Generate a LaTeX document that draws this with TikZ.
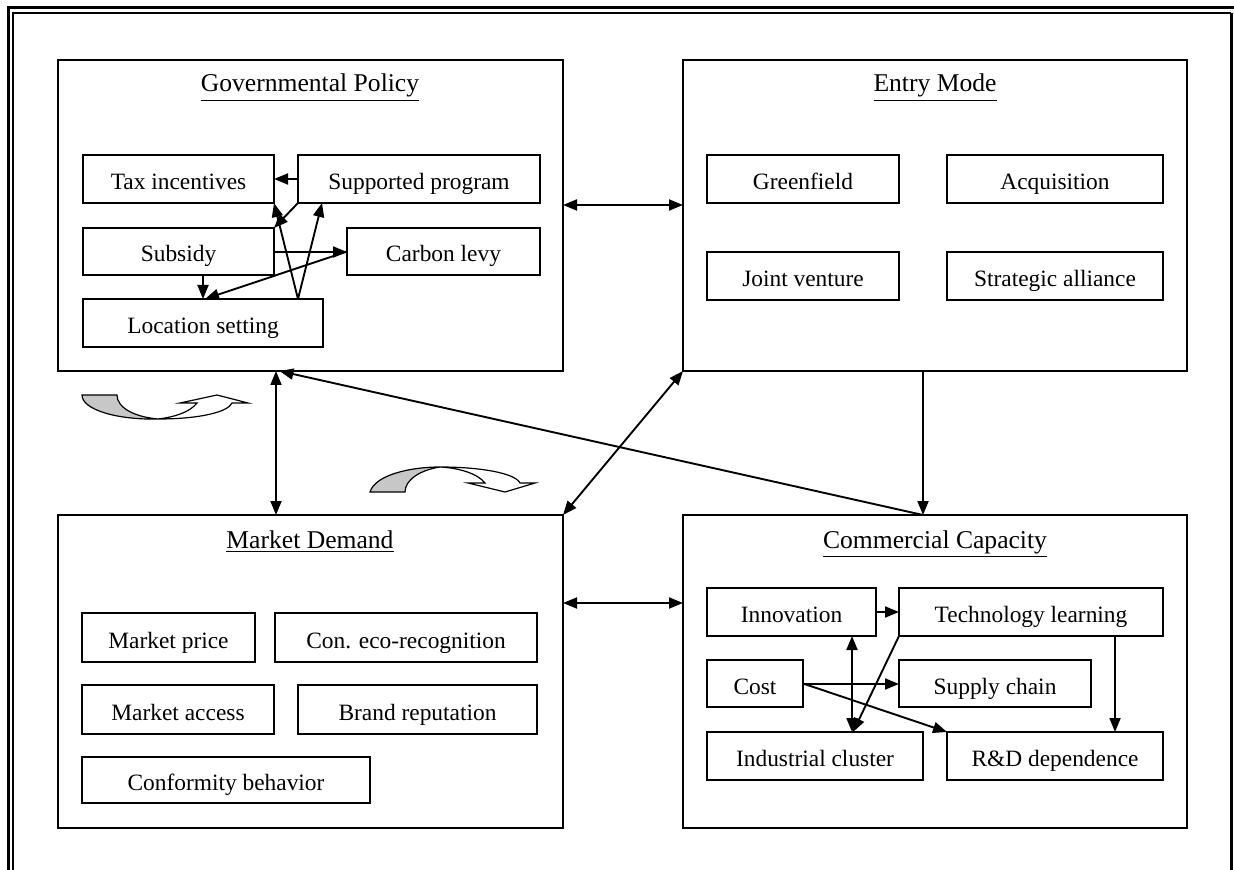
\documentclass[tikz,border=0pt]{standalone}
\usepackage{fontspec}
\setmainfont{Liberation Serif}
\usetikzlibrary{arrows.meta}
\tikzset{
  ib/.style={draw, line width=1pt, inner sep=0pt, outer sep=0pt, text height=10.5pt, text depth=0pt, font=\fontsize{11.7}{14}\selectfont},
  ob/.style={draw, line width=1pt, inner sep=0pt, outer sep=0pt},
  ar/.style={line width=0.95pt, -{Triangle[length=7pt,width=5.5pt]}},
  dar/.style={line width=0.95pt, {Triangle[length=7pt,width=5.5pt]}-{Triangle[length=7pt,width=5.5pt]}},
  ttl/.style={font=\fontsize{12.8}{15}\selectfont, anchor=base, inner sep=0pt},
  brd/.style={line width=1.5pt},
  brdi/.style={line width=0.9pt},
  cshape/.style={draw, line width=0.6pt, line join=miter},
}
% \bx[style]{name}{x1}{y1}{x2}{y2}{text}
\newcommand\bx[7][ib]{\node[#1, minimum width={(#5-#3)*0.5pt}, minimum height={(#6-#4)*0.5pt}] (#2) at ({(#3+#5)/2},{(#4+#6)/2}) {#7};}
\begin{document}
\begin{tikzpicture}[x=0.5pt,y=-0.5pt]
\useasboundingbox (0,0) rectangle (1234,870);
% page border
\draw[brd] (8,870) -- (8,8) -- (1234,8);
\draw[brdi] (13,870) -- (13,13) -- (1231,13);
\draw[brd] (1231,13) -- (1231,870);

% outer boxes
\bx[ob]{GP}{58}{60}{563}{371}{}
\bx[ob]{EM}{683}{60}{1187}{371}{}
\bx[ob]{MD}{58}{515}{563}{828}{}
\bx[ob]{CC}{683}{515}{1187}{828}{}

% titles
\node[ttl] (tGP) at (310,92) {\underline{Governmental Policy}};
\node[ttl] (tEM) at (935,92) {\underline{Entry Mode}};
\node[ttl] (tMD) at (310,548) {\underline{Market Demand}};
\node[ttl] (tCC) at (935,548) {\underline{Commercial Capacity}};

% Governmental policy
\bx{TI}{83}{155}{274}{203}{Tax incentives}
\bx{SP}{298}{155}{540}{203}{Supported program}
\bx{SB}{83}{228}{274}{275}{Subsidy}
\bx{CL}{347}{228}{540}{275}{Carbon levy}
\bx{LS}{83}{299}{323}{347}{Location setting}

\draw[ar] (SP.west) -- (TI.east);
\draw[ar] (SP.south west) -- (SB.north east);
\draw[ar] ([xshift=47.5pt]LS.north) -- (TI.south east);
\draw[ar] ([xshift=47.5pt]LS.north) -- ([xshift=-48.5pt]SP.south);
\draw[ar] ([yshift=-0.25pt]SB.east) -- ([yshift=-0.25pt]CL.west);
\draw[ar] (CL.west) -- ([xshift=1pt]LS.north);
\draw[ar] ([xshift=12.25pt]SB.south) -- (LS.north);

% Entry mode
\bx{GF}{707}{155}{899}{203}{Greenfield}
\bx{AQ}{947}{155}{1163}{203}{Acquisition}
\bx{JV}{707}{252}{899}{300}{Joint venture}
\bx{SA}{947}{252}{1163}{300}{Strategic alliance}

% Market demand
\bx{MP}{82}{613}{255}{662}{Market price}
\bx{CE}{275}{613}{537}{662}{Con. eco-recognition}
\bx{MA}{82}{685}{274}{734}{Market access}
\bx{BR}{298}{685}{537}{734}{Brand reputation}
\bx{CB}{82}{757}{370}{803}{Conformity behavior}

% Commercial capacity
\bx{IN}{707}{588}{876}{636}{Innovation}
\bx{TL}{899}{588}{1163}{636}{Technology learning}
\bx{CO}{707}{660}{803}{707}{Cost}
\bx{SC}{899}{660}{1091}{707}{Supply chain}
\bx{IC}{707}{732}{923}{780}{Industrial cluster}
\bx{RD}{947}{732}{1163}{780}{R\&D dependence}

\draw[ar] (IN.east) -- (TL.west);
\draw[dar] ([xshift=30.25pt]IN.south) -- ([xshift=18.5pt]IC.north);
\draw[ar] (TL.south west) -- ([xshift=19pt]IC.north);
\draw[ar] ([yshift=-0.25pt]CO.east) -- ([yshift=-0.25pt]SC.west);
\draw[ar] (CO.east) -- (RD.north west);
\draw[ar] ([xshift=42pt]TL.south) -- ([xshift=30pt]RD.north);

% main connectors
\draw[dar] ([yshift=5.25pt]GP.east) -- ([yshift=5.25pt]EM.west);
\draw[dar] ([yshift=34.25pt]MD.east) -- ([yshift=34.25pt]CC.west);
\draw[dar] ([xshift=-17.25pt]GP.south) -- ([xshift=-17.25pt]MD.north);
\draw[ar] ([xshift=-6pt]CC.north) -- ([xshift=-15.5pt]GP.south);
\draw[ar] ([xshift=-6pt]EM.south) -- ([xshift=-6pt]CC.north);
\draw[dar] (EM.south west) -- (MD.north east);

% curved arrow 1
\draw[cshape, fill=black!22] (82,395) -- (117,395) .. controls (117,408) and (135,417) .. (158,419) .. controls (118,420) and (82,410) .. (82,395) -- cycle;
\draw[cshape, fill=white] (158,419) .. controls (200,419) and (228,412) .. (232,403) -- (248,403) -- (217,395) -- (180,403) -- (197,403) .. controls (190,412) and (175,417) .. (158,419) -- cycle;

% curved arrow 2
\draw[cshape, fill=black!22] (370,492) .. controls (375,475) and (410,467) .. (440,467) .. controls (420,470) and (405,480) .. (405,492) -- cycle;
\draw[cshape, fill=white] (440,467) .. controls (480,467) and (515,473) .. (520,483) -- (535,483) -- (505,492) -- (468,483) -- (485,483) .. controls (478,474) and (460,468) .. (440,467) -- cycle;
\end{tikzpicture}
\end{document}
